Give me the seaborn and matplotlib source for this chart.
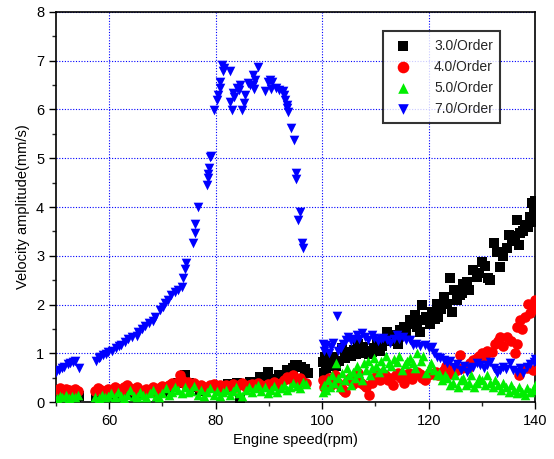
import matplotlib
matplotlib.use("Agg")
import matplotlib.pyplot as plt
import seaborn as sns
import pandas as pd
from matplotlib.ticker import MultipleLocator

# ---- data ----
series_names = ["3.0/Order", "4.0/Order", "5.0/Order", "7.0/Order"]

rpm_3 = [50.2, 50.8, 51.5, 52.2, 53.0, 53.8, 54.3, 57.5, 58.2, 59.0, 60.0, 61.0, 62.0, 63.0, 64.0, 65.0,
         66.0, 67.0, 68.0, 69.0, 70.0, 71.0, 72.0, 73.0, 73.6, 74.2, 75.0, 76.0, 77.0, 78.0, 79.0, 80.0,
         81.0, 82.4, 83.0, 84.0, 84.6, 85.5, 86.5, 87.5, 88.3, 89.0, 89.9, 91.0, 91.8, 92.1, 93.3, 93.6,
         94.6, 94.9, 95.2, 96.0, 96.8, 97.3,
         100.2, 100.3, 100.5, 100.8, 101.3, 102.1, 102.6, 103.2, 103.7, 104.3, 104.9, 105.4, 105.9, 106.4,
         106.8, 107.2, 107.7, 108.3, 108.8, 109.3, 109.8, 110.3, 110.8, 111.3, 112.1, 112.6, 113.1, 113.7,
         114.2, 114.6, 115.3, 115.8, 116.5, 117.0, 117.4, 117.8, 118.4, 118.7, 119.0, 119.5, 120.3, 120.6,
         121.2, 121.5, 121.8, 122.3, 122.8, 123.4, 124.0, 124.4, 124.7, 125.3, 125.8, 126.2, 126.5, 127.2,
         127.6, 128.4, 129.0, 129.5, 130.0, 130.6, 131.2, 131.5, 132.2, 132.8, 133.4, 134.0, 134.7, 135.0,
         135.6, 136.2, 136.6, 136.9, 137.2, 137.8, 138.1, 138.7, 139.1, 139.4, 139.4, 139.8, 140.0]
amp_3 = [0.12, 0.15, 0.10, 0.14, 0.12, 0.10, 0.13, 0.12, 0.15, 0.10, 0.13, 0.16, 0.12, 0.15, 0.18, 0.14,
         0.17, 0.20, 0.18, 0.22, 0.20, 0.25, 0.30, 0.40, 0.48, 0.55, 0.40, 0.30, 0.25, 0.22, 0.28, 0.30,
         0.25, 0.38, 0.30, 0.40, 0.04, 0.35, 0.42, 0.38, 0.52, 0.45, 0.62, 0.48, 0.55, 0.49, 0.66, 0.62,
         0.70, 0.76, 0.76, 0.72, 0.68, 0.60,
         0.83, 0.60, 0.93, 0.70, 0.78, 0.93, 0.75, 0.85, 1.10, 0.90, 1.03, 0.95, 1.07, 0.98,
         1.20, 1.00, 1.13, 1.05, 0.98, 1.03, 1.10, 1.20, 1.05, 1.15, 1.44, 1.25, 1.30, 1.37,
         1.20, 1.48, 1.54, 1.40, 1.68, 1.60, 1.78, 1.54, 1.44, 1.99, 1.68, 1.75, 1.61, 1.85,
         1.70, 2.02, 1.75, 1.90, 2.16, 2.02, 2.54, 1.85, 2.30, 2.09, 2.20, 2.23, 2.43, 2.47,
         2.30, 2.71, 2.57, 2.65, 2.88, 2.80, 2.54, 2.50, 3.26, 3.08, 2.78, 3.00, 3.15, 3.43,
         3.30, 3.40, 3.73, 3.22, 3.46, 3.50, 3.63, 3.60, 3.80, 4.08, 3.70, 3.90, 4.12]

rpm_4 = [50.2, 50.7, 51.2, 51.8, 52.4, 53.0, 53.5, 54.1, 57.4, 57.9, 58.5, 59.1, 59.7, 60.4, 61.0, 61.6,
         62.2, 62.8, 63.4, 64.0, 64.6, 65.2, 65.8, 66.4, 67.0, 67.6, 68.2, 68.8, 69.4, 70.0, 70.6, 71.2,
         71.8, 72.4, 73.0, 73.3, 73.6, 74.2, 74.8, 75.4, 76.0, 76.6, 77.2, 77.8, 78.4, 79.0, 79.6, 80.2,
         80.8, 81.4, 82.0, 82.6, 83.2, 83.8, 84.4, 85.0, 85.6, 86.2, 86.8, 87.4, 88.0, 88.6, 89.2, 89.8,
         90.4, 91.0, 91.6, 92.2, 92.8, 93.4, 94.0, 94.6, 95.2, 95.8, 96.4, 97.0,
         100.1, 100.4, 100.8, 101.2, 101.6, 102.0, 102.5, 103.0, 103.5, 104.0, 104.3, 104.8, 105.3, 105.8,
         106.3, 106.8, 107.3, 107.8, 108.3, 108.8, 109.3, 109.8, 110.3, 110.8, 111.3, 111.8, 112.3, 112.8,
         113.3, 113.8, 114.3, 114.8, 115.3, 115.8, 116.3, 116.8, 117.3, 117.8, 118.3, 118.8, 119.3, 119.8,
         120.3, 120.8, 121.3, 121.8, 122.3, 122.8, 123.3, 123.8, 124.3, 124.8, 125.3, 125.8, 126.3, 126.8,
         127.3, 127.8, 128.4, 129.0, 129.5, 130.0, 130.5, 131.0, 131.9, 132.5, 133.0, 133.4, 134.0, 134.7,
         135.5, 136.2, 136.6, 136.6, 137.2, 137.6, 138.0, 138.7, 139.0, 139.5, 139.9, 137.0, 138.5, 139.6]
amp_4 = [0.25, 0.28, 0.22, 0.27, 0.24, 0.20, 0.26, 0.22, 0.22, 0.28, 0.25, 0.20, 0.27, 0.23, 0.30, 0.26,
         0.22, 0.30, 0.35, 0.28, 0.22, 0.30, 0.25, 0.20, 0.27, 0.24, 0.30, 0.22, 0.28, 0.33, 0.30, 0.36,
         0.40, 0.35, 0.42, 0.55, 0.45, 0.38, 0.42, 0.35, 0.40, 0.30, 0.36, 0.30, 0.28, 0.35, 0.38, 0.30,
         0.35, 0.28, 0.36, 0.32, 0.38, 0.30, 0.35, 0.40, 0.30, 0.35, 0.38, 0.30, 0.40, 0.36, 0.32, 0.38,
         0.35, 0.42, 0.36, 0.40, 0.45, 0.52, 0.48, 0.55, 0.45, 0.50, 0.42, 0.40,
         0.45, 0.30, 0.38, 0.50, 0.35, 0.42, 0.55, 0.40, 0.30, 0.25, 0.20, 0.45, 0.50, 0.38,
         0.45, 0.60, 0.40, 0.35, 0.30, 0.15, 0.40, 0.50, 0.58, 0.45, 0.60, 0.55, 0.45, 0.50,
         0.35, 0.55, 0.60, 0.50, 0.40, 0.55, 0.60, 0.48, 0.55, 0.62, 0.58, 0.50, 0.45, 0.55,
         0.60, 0.58, 0.62, 0.55, 0.60, 0.66, 0.75, 0.58, 0.70, 0.62, 0.66, 0.96, 0.70, 0.72,
         0.70, 0.80, 0.86, 0.90, 0.95, 1.00, 0.92, 1.05, 1.03, 1.20, 1.25, 1.34, 1.15, 1.34,
         1.25, 1.00, 1.20, 1.54, 1.68, 1.50, 1.75, 2.02, 1.82, 1.90, 2.10, 0.55, 0.70, 0.65]

rpm_5 = [50.2, 50.7, 51.2, 51.8, 52.4, 53.0, 53.6, 54.2, 57.4, 58.0, 58.6, 59.2, 59.8, 60.4, 61.0, 61.6,
         62.2, 62.8, 63.4, 64.0, 64.6, 65.2, 65.8, 66.4, 67.0, 67.6, 68.2, 68.8, 69.4, 70.0, 70.6, 71.2,
         71.8, 72.4, 73.0, 73.6, 74.2, 74.8, 75.4, 76.0, 76.6, 77.2, 77.8, 78.4, 79.0, 79.6, 80.2, 80.8,
         81.4, 82.0, 82.6, 83.2, 83.8, 84.4, 85.0, 85.6, 86.2, 86.8, 87.4, 88.0, 88.6, 89.2, 89.8, 90.4,
         91.0, 91.6, 92.2, 92.8, 93.4, 94.0, 94.6, 95.2, 95.8, 96.4, 97.0,
         100.1, 100.4, 100.7, 101.0, 101.4, 101.8, 102.2, 102.6, 103.0, 103.4, 103.8, 104.2, 104.6, 105.0,
         105.4, 105.8, 106.2, 106.6, 107.0, 107.4, 107.8, 108.2, 108.6, 109.0, 109.4, 109.8, 110.2, 110.6,
         111.0, 111.5, 112.0, 112.5, 113.0, 113.5, 114.0, 114.5, 115.0, 115.5, 116.0, 116.5, 117.0, 117.5,
         117.8, 118.5, 119.0, 119.5, 120.0, 120.5, 121.0, 121.5, 122.0, 122.5, 123.0, 123.5, 124.0, 124.5,
         125.0, 125.5, 126.0, 126.5, 127.0, 127.5, 128.0, 128.5, 129.0, 129.5, 130.0, 130.5, 131.0, 131.5,
         132.0, 132.5, 133.0, 133.5, 134.0, 134.5, 135.0, 135.5, 136.0, 136.5, 137.0, 137.5, 138.0, 138.5,
         139.0, 139.5, 140.0]
amp_5 = [0.08, 0.12, 0.10, 0.15, 0.08, 0.12, 0.10, 0.14, 0.10, 0.08, 0.15, 0.10, 0.12, 0.18, 0.10, 0.20,
         0.12, 0.08, 0.15, 0.25, 0.12, 0.10, 0.20, 0.15, 0.10, 0.18, 0.25, 0.12, 0.10, 0.18, 0.28, 0.15,
         0.20, 0.30, 0.25, 0.18, 0.30, 0.20, 0.22, 0.32, 0.15, 0.25, 0.12, 0.20, 0.28, 0.15, 0.22, 0.12,
         0.20, 0.25, 0.15, 0.22, 0.30, 0.18, 0.12, 0.25, 0.30, 0.20, 0.28, 0.35, 0.22, 0.30, 0.18, 0.25,
         0.32, 0.20, 0.28, 0.35, 0.25, 0.30, 0.40, 0.32, 0.28, 0.42, 0.38,
         0.20, 0.35, 0.25, 0.45, 0.30, 0.55, 0.40, 0.80, 0.50, 0.30, 0.60, 0.45, 0.70, 0.55,
         0.35, 0.62, 0.50, 0.75, 0.60, 0.45, 0.80, 0.65, 0.85, 0.55, 0.70, 0.90, 0.75, 0.62,
         0.85, 0.70, 0.95, 0.80, 0.75, 0.88, 0.82, 0.95, 0.65, 0.78, 0.85, 0.90, 0.80, 0.70,
         1.00, 0.85, 0.95, 0.60, 0.70, 0.80, 0.65, 0.55, 0.60, 0.45, 0.55, 0.50, 0.35, 0.40,
         0.55, 0.30, 0.45, 0.50, 0.35, 0.40, 0.55, 0.30, 0.40, 0.50, 0.45, 0.35, 0.55, 0.40,
         0.30, 0.45, 0.35, 0.25, 0.40, 0.30, 0.20, 0.35, 0.25, 0.18, 0.30, 0.20, 0.15, 0.28,
         0.20, 0.25, 0.35]

rpm_7 = [50.1, 50.5, 51.1, 51.6, 52.3, 52.6, 53.2, 53.6, 54.4,
         57.6, 58.0, 58.3, 58.9, 59.4, 59.8, 60.5, 61.2, 61.8, 62.3, 63.0, 63.6, 64.3, 65.2, 65.5, 66.2,
         66.7, 67.5, 68.2, 68.6, 69.5, 70.1, 70.5, 71.1, 71.7, 72.4, 73.0, 73.6, 73.8, 74.2, 74.5, 75.8,
         76.2, 76.2, 76.6, 78.3, 78.5, 78.6, 78.7, 78.9, 79.1,
         79.6, 80.3, 80.5, 80.8, 80.9, 81.1, 81.3, 81.5, 82.7, 82.6, 83.0, 83.3, 83.5, 84.0, 84.3, 84.6,
         84.9, 85.3, 85.5, 86.1, 86.4, 87.1, 87.3, 87.2, 87.0, 88.0, 89.3, 89.9, 90.2, 90.5, 90.3, 91.3,
         91.8, 92.7, 92.9, 93.1, 93.3, 93.4, 93.5, 94.1, 94.8, 95.0, 95.1, 95.8, 95.5, 96.2, 96.4,
         100.1, 100.3, 100.5, 100.8, 101.2, 101.6, 102.0, 102.7, 103.0, 103.5, 104.0, 104.5, 104.9, 105.5,
         106.0, 106.5, 107.0, 107.4, 108.0, 108.6, 109.3, 109.8, 110.5, 111.0, 111.5, 112.2, 112.8, 113.5,
         114.0, 114.5, 115.2, 115.8, 116.5, 117.0, 117.6, 118.3, 119.3, 120.0, 120.6, 121.0, 121.5, 122.2,
         122.8, 123.5, 124.0, 124.7, 125.3, 126.0, 126.6, 127.2, 127.8, 128.4, 129.0, 129.6, 130.3, 130.9,
         131.5, 132.2, 132.8, 133.4, 134.0, 134.6, 135.2, 135.8, 136.5, 137.2, 137.8, 138.4, 139.0, 139.7,
         140.0]
amp_7 = [0.62, 0.66, 0.69, 0.72, 0.78, 0.80, 0.83, 0.85, 0.69,
         0.85, 0.90, 0.93, 0.97, 0.99, 1.02, 1.05, 1.10, 1.15, 1.18, 1.24, 1.30, 1.33, 1.36, 1.43, 1.50,
         1.55, 1.62, 1.67, 1.74, 1.88, 1.95, 2.03, 2.10, 2.20, 2.25, 2.30, 2.35, 2.55, 2.72, 2.86, 3.27,
         3.46, 3.66, 3.99, 4.45, 4.60, 4.68, 4.80, 5.03, 5.05,
         5.99, 6.20, 6.30, 6.57, 6.45, 6.91, 6.78, 6.85, 6.78, 6.16, 5.99, 6.33, 6.25, 6.45, 6.40, 6.50,
         5.99, 6.13, 6.30, 6.54, 6.50, 6.71, 6.60, 6.43, 6.50, 6.88, 6.37, 6.57, 6.60, 6.57, 6.43, 6.45,
         6.40, 6.37, 6.30, 6.20, 6.10, 6.02, 5.95, 5.61, 5.37, 4.69, 4.58, 3.90, 3.73, 3.26, 3.15,
         1.20, 1.05, 1.13, 1.18, 1.00, 1.12, 1.21, 1.76, 1.05, 1.10, 1.20, 1.28, 1.33, 1.25,
         1.30, 1.37, 1.30, 1.41, 1.34, 1.28, 1.37, 1.32, 1.25, 1.30, 1.31, 1.28, 1.22, 1.30,
         1.37, 1.30, 1.34, 1.28, 1.27, 1.18, 1.20, 1.15, 1.17, 1.10, 1.13, 1.00, 0.93, 0.90,
         0.86, 0.80, 0.85, 0.72, 0.78, 0.66, 0.75, 0.62, 0.70, 0.72, 0.80, 0.76, 0.70, 0.76,
         0.82, 0.70, 0.60, 0.66, 0.72, 0.68, 0.80, 0.66, 0.62, 0.69, 0.60, 0.72, 0.78, 0.83,
         0.88]

x_ticks = [60, 80, 100, 120, 140]
y_ticks = [0, 1, 2, 3, 4, 5, 6, 7, 8]

# ---- build table ----
frames = []
for name, xs, ys in zip(series_names, [rpm_3, rpm_4, rpm_5, rpm_7], [amp_3, amp_4, amp_5, amp_7]):
    frames.append(pd.DataFrame({"rpm": xs, "amp": ys, "order": name}))
df = pd.concat(frames, ignore_index=True)

sns.set_theme(style="white")
plt.rcParams["font.family"] = ["Liberation Sans", "DejaVu Sans"]

fig = plt.figure(figsize=(5.54, 4.59), dpi=100)
ax = fig.add_axes([0.101, 0.124, 0.865, 0.850])

palette = {"3.0/Order": "#000000", "4.0/Order": "#ff0000", "5.0/Order": "#00ee00", "7.0/Order": "#0000ff"}
markers = {"3.0/Order": "s", "4.0/Order": "o", "5.0/Order": "^", "7.0/Order": "v"}
sizes = {"3.0/Order": 42, "4.0/Order": 58, "5.0/Order": 48, "7.0/Order": 48}

for name in series_names:
    sub = df[df["order"] == name]
    sns.scatterplot(data=sub, x="rpm", y="amp", color=palette[name], marker=markers[name],
                    s=sizes[name], linewidth=0, ax=ax, label=name, zorder=3)

ax.set_xlim(50, 140)
ax.set_ylim(0, 8)
ax.set_xticks(x_ticks)
ax.set_yticks(y_ticks)
ax.xaxis.set_minor_locator(MultipleLocator(10))
ax.yaxis.set_minor_locator(MultipleLocator(0.5))
ax.grid(True, which="major", color="#0000ff", linestyle=(0, (1, 1.5)), linewidth=0.8, zorder=0)
ax.set_axisbelow(True)

ax.tick_params(axis="both", which="major", direction="out", length=5, width=1.0,
               labelsize=10.5, colors="black", bottom=True, left=True)
ax.tick_params(axis="both", which="minor", direction="out", length=3, width=1.0, bottom=True, left=True)
for sp in ax.spines.values():
    sp.set_color("black")
    sp.set_linewidth(1.2)

ax.set_xlabel("Engine speed(rpm)", fontsize=10.5, color="black")
ax.set_ylabel("Velocity amplitude(mm/s)", fontsize=10.5, color="black")

leg = ax.legend(loc="upper left", bbox_to_anchor=(0.683, 0.951), frameon=True, fancybox=False,
                fontsize=10, handletextpad=1.3, borderpad=0.55, labelspacing=0.5,
                handlelength=1.8, borderaxespad=0, markerscale=1.1)
leg.get_frame().set_edgecolor("black")
leg.get_frame().set_linewidth(1.5)

fig.savefig("out.png", dpi=100)
